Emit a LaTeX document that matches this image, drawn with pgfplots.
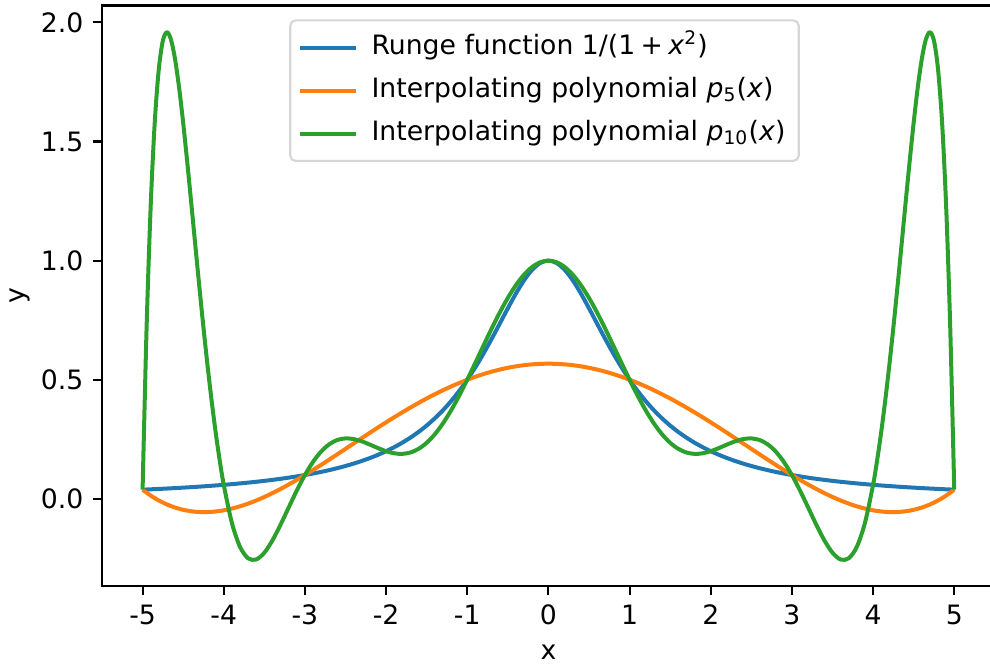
\documentclass[border=0pt]{standalone}
\usepackage{fontspec}
\setmainfont{DejaVu Sans}
\usepackage{pgfplots}
\pgfplotsset{compat=1.18}
\usepackage{pgfplotstable}
\usetikzlibrary{calc}
\definecolor{tabblue}{HTML}{1F77B4}
\definecolor{taborange}{HTML}{FF7F0E}
\definecolor{tabgreen}{HTML}{2CA02C}
\definecolor{legframe}{RGB}{214,214,214}

\pgfplotstableread{
x y
-5 0.038462
-4.9 0.039984
-4.8 0.041597
-4.7 0.043309
-4.6 0.045126
-4.5 0.047059
-4.4 0.049116
-4.3 0.051308
-4.2 0.053648
-4.1 0.056148
-4 0.058824
-3.9 0.061690
-3.8 0.064767
-3.7 0.068073
-3.6 0.071633
-3.5 0.075472
-3.4 0.079618
-3.3 0.084104
-3.2 0.088968
-3.1 0.094251
-3 0.1
-2.9 0.106270
-2.8 0.113122
-2.7 0.120627
-2.6 0.128866
-2.5 0.137931
-2.4 0.147929
-2.3 0.158983
-2.2 0.171233
-2.1 0.184843
-2 0.2
-1.9 0.216920
-1.8 0.235849
-1.7 0.257069
-1.6 0.280899
-1.5 0.307692
-1.4 0.337838
-1.3 0.371747
-1.2 0.409836
-1.1 0.452489
-1 0.5
-0.9 0.552486
-0.8 0.609756
-0.7 0.671141
-0.6 0.735294
-0.5 0.8
-0.4 0.862069
-0.3 0.917431
-0.2 0.961538
-0.1 0.990099
0 1
0.1 0.990099
0.2 0.961538
0.3 0.917431
0.4 0.862069
0.5 0.8
0.6 0.735294
0.7 0.671141
0.8 0.609756
0.9 0.552486
1 0.5
1.1 0.452489
1.2 0.409836
1.3 0.371747
1.4 0.337838
1.5 0.307692
1.6 0.280899
1.7 0.257069
1.8 0.235849
1.9 0.216920
2 0.2
2.1 0.184843
2.2 0.171233
2.3 0.158983
2.4 0.147929
2.5 0.137931
2.6 0.128866
2.7 0.120627
2.8 0.113122
2.9 0.106270
3 0.1
3.1 0.094251
3.2 0.088968
3.3 0.084104
3.4 0.079618
3.5 0.075472
3.6 0.071633
3.7 0.068073
3.8 0.064767
3.9 0.061690
4 0.058824
4.1 0.056148
4.2 0.053648
4.3 0.051308
4.4 0.049116
4.5 0.047059
4.6 0.045126
4.7 0.043309
4.8 0.041597
4.9 0.039984
5 0.038462
}\runge

\pgfplotstableread{
x y
-5 0.038462
-4.9 0.013692
-4.8 -0.006920
-4.7 -0.023598
-4.6 -0.036564
-4.5 -0.046034
-4.4 -0.052210
-4.3 -0.055308
-4.2 -0.055520
-4.1 -0.053046
-4 -0.048077
-3.9 -0.040800
-3.8 -0.031397
-3.7 -0.020046
-3.6 -0.006920
-3.5 0.007813
-3.4 0.023988
-3.3 0.041447
-3.2 0.060034
-3.1 0.079600
-3 0.1
-2.9 0.121093
-2.8 0.142742
-2.7 0.164816
-2.6 0.187188
-2.5 0.209736
-2.4 0.232342
-2.3 0.254893
-2.2 0.277280
-2.1 0.299400
-2 0.321154
-1.9 0.342446
-1.8 0.363188
-1.7 0.383293
-1.6 0.402680
-1.5 0.421274
-1.4 0.439003
-1.3 0.455800
-1.2 0.471603
-1.1 0.486354
-1 0.5
-0.9 0.512492
-0.8 0.523788
-0.7 0.533846
-0.6 0.542634
-0.5 0.550120
-0.4 0.556280
-0.3 0.561093
-0.2 0.564542
-0.1 0.566616
0 0.567308
0.1 0.566616
0.2 0.564542
0.3 0.561093
0.4 0.556280
0.5 0.550120
0.6 0.542634
0.7 0.533846
0.8 0.523788
0.9 0.512492
1 0.5
1.1 0.486354
1.2 0.471603
1.3 0.455800
1.4 0.439003
1.5 0.421274
1.6 0.402680
1.7 0.383293
1.8 0.363188
1.9 0.342446
2 0.321154
2.1 0.299400
2.2 0.277280
2.3 0.254893
2.4 0.232342
2.5 0.209736
2.6 0.187188
2.7 0.164816
2.8 0.142742
2.9 0.121093
3 0.1
3.1 0.079600
3.2 0.060034
3.3 0.041447
3.4 0.023988
3.5 0.007813
3.6 -0.006920
3.7 -0.020046
3.8 -0.031397
3.9 -0.040800
4 -0.048077
4.1 -0.053046
4.2 -0.055520
4.3 -0.055308
4.4 -0.052210
4.5 -0.046034
4.6 -0.036564
4.7 -0.023598
4.8 -0.006920
4.9 0.013692
5 0.038462
}\pfive

\pgfplotstableread{
x y
-5 0.038462
-4.95 0.726073
-4.9 1.230317
-4.85 1.580990
-4.8 1.804370
-4.75 1.923618
-4.7 1.958959
-4.65 1.927958
-4.6 1.845831
-4.55 1.725733
-4.5 1.578715
-4.45 1.414258
-4.4 1.240216
-4.35 1.063075
-4.3 0.888075
-4.25 0.719460
-4.2 0.560444
-4.15 0.413460
-4.1 0.280217
-4.05 0.161813
-4 0.058824
-3.9 -0.100724
-3.8 -0.201297
-3.7 -0.249606
-3.6 -0.254602
-3.5 -0.226197
-3.4 -0.174336
-3.3 -0.108315
-3.2 -0.036317
-3.1 0.034874
-3 0.1
-2.9 0.155359
-2.8 0.198726
-2.7 0.229227
-2.6 0.247154
-2.5 0.253755
-2.4 0.251021
-2.3 0.241450
-2.2 0.227840
-2.1 0.213086
-2 0.2
-1.9 0.191159
-1.8 0.188778
-1.7 0.194617
-1.6 0.209915
-1.5 0.235347
-1.4 0.271024
-1.3 0.316505
-1.2 0.370833
-1.1 0.432596
-1 0.5
-0.9 0.570954
-0.8 0.643163
-0.7 0.714228
-0.6 0.781747
-0.5 0.843407
-0.4 0.897080
-0.3 0.940902
-0.2 0.973346
-0.1 0.993278
0 1
0.1 0.993278
0.2 0.973346
0.3 0.940902
0.4 0.897080
0.5 0.843407
0.6 0.781747
0.7 0.714228
0.8 0.643163
0.9 0.570954
1 0.5
1.1 0.432596
1.2 0.370833
1.3 0.316505
1.4 0.271024
1.5 0.235347
1.6 0.209915
1.7 0.194617
1.8 0.188778
1.9 0.191159
2 0.2
2.1 0.213086
2.2 0.227840
2.3 0.241450
2.4 0.251021
2.5 0.253755
2.6 0.247154
2.7 0.229227
2.8 0.198726
2.9 0.155359
3 0.1
3.1 0.034874
3.2 -0.036317
3.3 -0.108315
3.4 -0.174336
3.5 -0.226197
3.6 -0.254602
3.7 -0.249606
3.8 -0.201297
3.9 -0.100724
4 0.058824
4.05 0.161813
4.1 0.280217
4.15 0.413460
4.2 0.560444
4.25 0.719460
4.3 0.888075
4.35 1.063075
4.4 1.240216
4.45 1.414258
4.5 1.578715
4.55 1.725733
4.6 1.845831
4.65 1.927958
4.7 1.958959
4.75 1.923618
4.8 1.804370
4.85 1.580990
4.9 1.230317
4.95 0.726073
5 0.038462
}\pten

\begin{document}
\begin{tikzpicture}
\begin{axis}[
  scale only axis,
  width=334.8pt, height=217.7pt,
  xmin=-5.5, xmax=5.5, ymin=-0.366, ymax=2.071,
  xtick={-5,-4,-3,-2,-1,0,1,2,3,4,5},
  xticklabels={-5,-4,-3,-2,-1,0,1,2,3,4,5},
  ytick={0,0.5,1,1.5,2},
  yticklabels={0.0,0.5,1.0,1.5,2.0},
  tick align=outside, tick pos=left,
  major tick length=3.5pt,
  every tick/.style={black, line width=0.8pt},
  axis line style={line width=0.8pt},
  tick label style={font=\fontsize{10}{12}\selectfont},
  label style={font=\fontsize{10}{12}\selectfont},
  xlabel={x}, ylabel={y},
  xlabel style={at={(axis description cs:0.5,-0.1137)}, anchor=center},
  ylabel style={at={(axis description cs:-0.0918,0.5)}, anchor=center},
  legend cell align=left,
  legend image code/.code={\draw[#1, line width=1.5pt] (0pt,0pt) -- (21pt,0pt);},
  legend style={
    at={(axis description cs:0.4956,0.9762)}, anchor=north,
    draw=legframe, line width=0.8pt, rounded corners=2pt, fill=white,
    font=\fontsize{10}{12}\selectfont,
    inner xsep=3pt, inner ysep=3.2pt,
    row sep=2pt, column sep=3pt,
    nodes={inner sep=2pt, text height=7.5pt, text depth=2.6pt}
  },
]
\addplot[tabblue, line width=1.5pt, line join=round, smooth] table[x=x,y=y] {\runge};
\addlegendentry{Runge function 1/(1\kern2pt+\kern2pt\textit{x}\textsuperscript{2})}
\addplot[taborange, line width=1.5pt, line join=round, smooth] table[x=x,y=y] {\pfive};
\addlegendentry{Interpolating polynomial \textit{p}\textsubscript{5}(\textit{x})}
\addplot[tabgreen, line width=1.5pt, line join=round, smooth, tension=0.5] table[x=x,y=y] {\pten};
\addlegendentry{Interpolating polynomial \textit{p}\textsubscript{10}(\textit{x})}
\coordinate (SW) at (rel axis cs:0,0);
\end{axis}
\pgfresetboundingbox
\path[use as bounding box] ($(SW)+(-38.25pt,-29.25pt)$) rectangle ($(SW)+(333pt,219.76pt)$);
\end{tikzpicture}
\end{document}
